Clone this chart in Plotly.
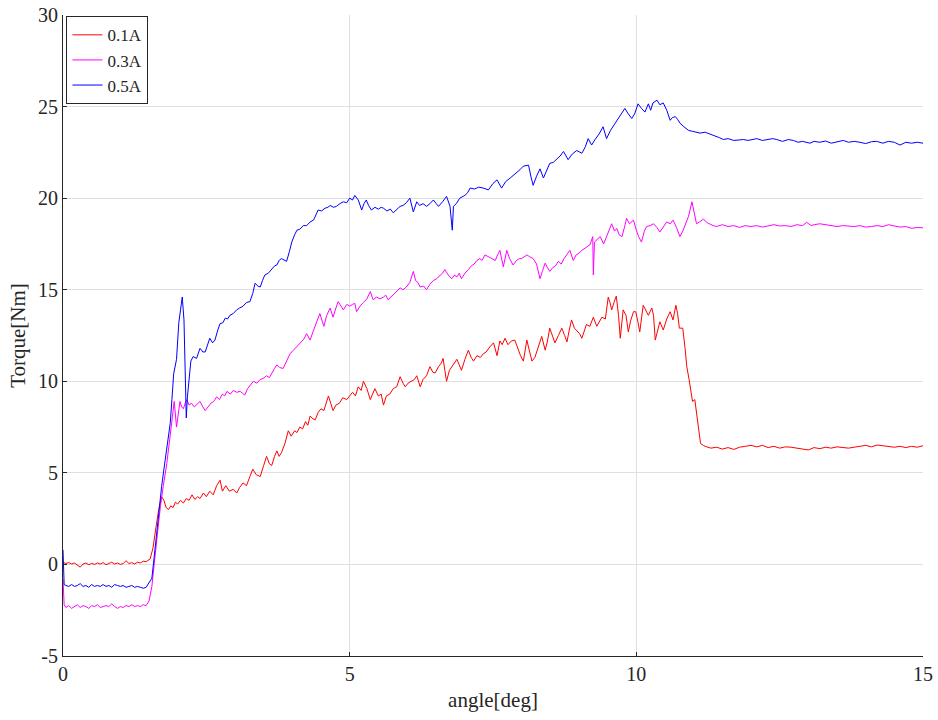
import plotly.graph_objects as go

# ---- Torque vs. angle measurements for three drive currents ----
angle_01 = [
    0.00, 0.05, 0.10, 0.15, 0.20, 0.25, 0.30, 0.35, 0.40, 0.45, 0.50, 0.55, 0.60, 0.65, 0.70,
    0.75, 0.80, 0.85, 0.90, 0.95, 1.00, 1.05, 1.10, 1.15, 1.20, 1.25, 1.30, 1.35, 1.40, 1.45,
    1.52, 1.57, 1.62, 1.67, 1.72, 1.76, 1.80, 1.84, 1.88, 1.92, 1.96, 2.00, 2.05, 2.10, 2.15,
    2.20, 2.25, 2.30, 2.35, 2.39, 2.45, 2.50, 2.56, 2.62, 2.68, 2.74, 2.78, 2.84, 2.90, 2.97,
    3.03, 3.08, 3.14, 3.20, 3.26, 3.31, 3.37, 3.44, 3.50, 3.55, 3.60, 3.64, 3.69, 3.73, 3.77,
    3.81, 3.87, 3.93, 3.98, 4.04, 4.08, 4.13, 4.18, 4.23, 4.27, 4.31, 4.36, 4.40, 4.45, 4.50,
    4.55, 4.60, 4.63, 4.67, 4.71, 4.76, 4.82, 4.88, 4.95, 5.00, 5.05, 5.10, 5.15, 5.20, 5.24,
    5.30, 5.36, 5.40, 5.44, 5.50, 5.55, 5.59, 5.64, 5.70, 5.76, 5.82, 5.88, 5.93, 5.97, 6.02,
    6.08, 6.13, 6.17, 6.20, 6.23, 6.28, 6.34, 6.40, 6.45, 6.49, 6.55, 6.60, 6.63, 6.66, 6.69,
    6.74, 6.80, 6.87, 6.91, 6.95, 7.01, 7.07, 7.12, 7.16, 7.22, 7.28, 7.33, 7.38, 7.45, 7.51,
    7.57, 7.62, 7.66, 7.71, 7.76, 7.82, 7.88, 7.94, 7.98, 8.03, 8.09, 8.14, 8.18, 8.23, 8.29,
    8.35, 8.41, 8.45, 8.49, 8.54, 8.58, 8.64, 8.70, 8.75, 8.79, 8.83, 8.87, 8.92, 8.97, 9.01,
    9.05, 9.09, 9.13, 9.19, 9.25, 9.31, 9.36, 9.40, 9.46, 9.51, 9.54, 9.57, 9.61, 9.65, 9.69,
    9.72, 9.77, 9.82, 9.86, 9.90, 9.95, 9.99, 10.03, 10.06, 10.12, 10.16, 10.21, 10.27, 10.30, 10.33,
    10.37, 10.41, 10.47, 10.53, 10.59, 10.64, 10.69, 10.72, 10.75, 10.81, 10.85, 10.88, 10.92, 10.95, 10.98,
    11.02, 11.05, 11.09, 11.12, 11.17, 11.20, 11.30, 11.40, 11.50, 11.60, 11.70, 11.80, 11.90, 12.00, 12.10,
    12.20, 12.30, 12.40, 12.50, 12.60, 12.70, 12.80, 12.90, 13.00, 13.10, 13.20, 13.30, 13.40, 13.50, 13.60,
    13.70, 13.80, 13.90, 14.00, 14.10, 14.20, 14.30, 14.40, 14.50, 14.60, 14.70, 14.80, 14.90, 15.00,
]
torque_01 = [
    0.12, 0.05, 0.10, 0.02, 0.08, -0.05, -0.15, 0.02, 0.08, -0.02, 0.06, 0.00, 0.08, 0.02, 0.10,
    -0.02, 0.06, 0.12, 0.02, 0.08, 0.00, 0.05, 0.20, 0.05, 0.10, 0.02, 0.12, 0.08, 0.18, 0.15,
    0.30, 0.90, 2.00, 3.00, 3.70, 3.50, 3.10, 3.00, 3.20, 3.10, 3.40, 3.30, 3.50, 3.35, 3.60,
    3.50, 3.80, 3.55, 3.70, 3.60, 3.90, 3.70, 4.00, 3.80, 4.30, 4.60, 4.00, 4.30, 4.00, 4.10,
    3.90, 4.20, 4.45, 4.30, 4.80, 5.20, 4.90, 4.80, 5.40, 5.90, 5.50, 5.40, 5.90, 6.20, 5.90,
    6.10, 6.60, 7.30, 7.00, 7.30, 7.20, 7.50, 7.40, 7.80, 7.60, 8.10, 7.95, 7.90, 8.30, 8.50,
    8.40, 8.90, 9.20, 8.80, 8.40, 8.70, 8.80, 9.10, 9.00, 9.20, 9.40, 9.20, 9.70, 9.50, 10.00,
    9.60, 9.00, 9.30, 9.60, 9.20, 9.30, 8.70, 9.20, 9.30, 9.60, 9.70, 10.25, 9.90, 9.70, 9.90,
    10.00, 10.10, 10.30, 10.00, 9.70, 10.10, 10.30, 10.80, 10.50, 10.45, 10.80, 11.00, 11.25, 10.60, 10.00,
    10.60, 10.90, 11.20, 10.90, 10.60, 11.20, 11.70, 11.30, 11.10, 11.40, 11.30, 11.50, 11.60, 11.90, 12.10,
    11.40, 12.20, 12.00, 12.35, 12.00, 12.20, 12.25, 11.70, 11.40, 11.10, 12.25, 11.60, 11.10, 11.30, 11.90,
    12.45, 11.70, 12.20, 12.90, 12.40, 12.10, 12.50, 12.90, 12.50, 12.15, 12.80, 13.35, 12.90, 12.70, 12.60,
    12.35, 12.80, 13.10, 13.00, 13.50, 13.00, 13.30, 13.50, 13.40, 14.60, 14.30, 13.90, 14.30, 14.65, 13.60,
    12.35, 13.90, 13.60, 12.70, 13.30, 13.80, 13.80, 13.20, 12.70, 14.15, 13.90, 13.60, 14.00, 13.60, 12.25,
    12.70, 13.25, 12.80, 13.40, 13.80, 13.35, 14.15, 13.70, 12.90, 12.90, 11.80, 10.80, 10.10, 9.40, 8.90,
    9.00, 8.20, 7.20, 6.60, 6.50, 6.45, 6.35, 6.40, 6.30, 6.38, 6.28, 6.40, 6.45, 6.50, 6.42,
    6.50, 6.38, 6.45, 6.35, 6.42, 6.40, 6.35, 6.30, 6.25, 6.38, 6.32, 6.40, 6.35, 6.42, 6.40,
    6.35, 6.40, 6.45, 6.50, 6.42, 6.52, 6.48, 6.45, 6.40, 6.45, 6.38, 6.45, 6.40, 6.48,
]

angle_03 = [
    0.00, 0.02, 0.05, 0.10, 0.15, 0.20, 0.25, 0.30, 0.35, 0.40, 0.45, 0.50, 0.55, 0.60, 0.65,
    0.70, 0.75, 0.80, 0.85, 0.90, 0.95, 1.00, 1.05, 1.10, 1.15, 1.20, 1.25, 1.30, 1.35, 1.40,
    1.45, 1.50, 1.55, 1.60, 1.65, 1.70, 1.75, 1.81, 1.86, 1.90, 1.94, 1.98, 2.01, 2.04, 2.07,
    2.10, 2.13, 2.16, 2.20, 2.24, 2.29, 2.34, 2.39, 2.44, 2.48, 2.53, 2.58, 2.63, 2.68, 2.73,
    2.78, 2.82, 2.86, 2.92, 2.97, 3.03, 3.09, 3.13, 3.17, 3.22, 3.27, 3.32, 3.38, 3.44, 3.49,
    3.55, 3.60, 3.64, 3.69, 3.73, 3.78, 3.84, 3.90, 3.96, 4.02, 4.08, 4.14, 4.20, 4.25, 4.31,
    4.36, 4.42, 4.48, 4.55, 4.60, 4.66, 4.71, 4.76, 4.80, 4.85, 4.89, 4.95, 5.00, 5.05, 5.09,
    5.12, 5.18, 5.24, 5.30, 5.36, 5.41, 5.47, 5.53, 5.59, 5.63, 5.67, 5.72, 5.78, 5.83, 5.88,
    5.93, 5.99, 6.05, 6.11, 6.15, 6.19, 6.23, 6.29, 6.34, 6.40, 6.46, 6.52, 6.58, 6.62, 6.66,
    6.72, 6.78, 6.83, 6.87, 6.91, 6.95, 7.01, 7.07, 7.12, 7.17, 7.22, 7.27, 7.31, 7.36, 7.42,
    7.48, 7.54, 7.58, 7.62, 7.68, 7.74, 7.79, 7.85, 7.91, 7.96, 8.00, 8.05, 8.09, 8.14, 8.20,
    8.26, 8.32, 8.36, 8.41, 8.45, 8.49, 8.54, 8.59, 8.64, 8.69, 8.74, 8.79, 8.84, 8.90, 8.95,
    9.00, 9.05, 9.12, 9.19, 9.24, 9.25, 9.27, 9.31, 9.37, 9.43, 9.47, 9.51, 9.57, 9.62, 9.66,
    9.70, 9.75, 9.80, 9.83, 9.88, 9.95, 10.00, 10.04, 10.09, 10.14, 10.18, 10.24, 10.30, 10.36, 10.41,
    10.47, 10.53, 10.59, 10.64, 10.70, 10.76, 10.81, 10.85, 10.91, 10.97, 11.01, 11.05, 11.10, 11.17, 11.24,
    11.30, 11.34, 11.40, 11.50, 11.60, 11.70, 11.80, 11.90, 12.00, 12.10, 12.20, 12.30, 12.40, 12.50, 12.60,
    12.70, 12.80, 12.90, 12.97, 13.05, 13.10, 13.20, 13.30, 13.40, 13.50, 13.60, 13.70, 13.80, 13.90, 14.00,
    14.10, 14.20, 14.30, 14.40, 14.50, 14.60, 14.70, 14.80, 14.90, 15.00,
]
torque_03 = [
    -0.80, -2.20, -2.35, -2.25, -2.40, -2.30, -2.20, -2.35, -2.25, -2.30, -2.40, -2.25, -2.30, -2.20, -2.35,
    -2.30, -2.25, -2.30, -2.15, -2.30, -2.40, -2.30, -2.35, -2.25, -2.30, -2.20, -2.30, -2.25, -2.30, -2.20,
    -2.25, -2.00, -1.20, 0.30, 1.90, 3.20, 4.30, 5.50, 6.80, 7.90, 8.90, 7.50, 8.20, 8.90, 8.60,
    8.50, 8.80, 9.00, 8.70, 8.80, 8.60, 8.75, 8.90, 8.60, 8.40, 8.60, 8.80, 8.90, 9.15, 9.00,
    9.30, 9.20, 9.45, 9.30, 9.50, 9.40, 9.45, 9.35, 9.25, 9.60, 9.80, 10.00, 9.90, 10.10, 10.15,
    10.30, 10.20, 10.45, 10.70, 10.90, 10.75, 10.70, 11.10, 11.50, 11.70, 11.90, 12.10, 12.30, 12.60, 12.25,
    12.70, 13.20, 13.70, 13.00, 13.60, 14.00, 13.50, 14.00, 14.35, 14.10, 13.90, 14.20, 14.10, 14.20, 14.25,
    13.80, 14.10, 14.30, 14.50, 14.90, 14.45, 14.60, 14.50, 14.60, 14.70, 14.45, 14.60, 14.80, 14.90, 15.10,
    15.00, 15.15, 15.40, 16.00, 15.50, 15.40, 15.15, 15.20, 15.00, 15.30, 15.50, 15.60, 15.80, 15.90, 16.10,
    15.80, 15.60, 15.80, 15.70, 15.90, 15.60, 15.90, 16.10, 16.30, 16.40, 16.60, 16.70, 16.60, 16.90, 16.80,
    16.70, 16.60, 16.90, 17.15, 16.25, 17.15, 16.70, 16.35, 16.60, 16.70, 16.70, 16.80, 16.90, 16.80, 16.70,
    16.40, 15.60, 16.00, 16.45, 16.20, 16.00, 16.20, 16.30, 16.55, 16.40, 16.70, 16.90, 17.15, 16.60, 16.90,
    17.00, 17.15, 17.30, 17.45, 17.90, 15.80, 17.60, 17.70, 17.90, 17.50, 17.80, 18.10, 18.60, 18.20, 18.35,
    18.00, 17.90, 18.50, 18.90, 18.60, 18.80, 18.25, 17.90, 17.60, 18.20, 18.45, 18.50, 18.60, 18.40, 18.15,
    18.40, 18.70, 18.60, 18.80, 18.40, 17.90, 18.20, 18.50, 19.00, 19.80, 19.20, 18.60, 18.70, 18.85, 18.65,
    18.55, 18.50, 18.45, 18.55, 18.45, 18.50, 18.40, 18.50, 18.45, 18.50, 18.42, 18.50, 18.55, 18.48, 18.50,
    18.45, 18.55, 18.50, 18.68, 18.50, 18.55, 18.60, 18.55, 18.50, 18.45, 18.50, 18.48, 18.45, 18.50, 18.42,
    18.45, 18.50, 18.45, 18.55, 18.48, 18.42, 18.45, 18.35, 18.40, 18.38,
]

angle_05 = [
    0.00, 0.02, 0.05, 0.10, 0.15, 0.20, 0.25, 0.30, 0.35, 0.40, 0.45, 0.50, 0.55, 0.60, 0.65,
    0.70, 0.75, 0.80, 0.85, 0.90, 0.95, 1.00, 1.05, 1.10, 1.15, 1.20, 1.25, 1.30, 1.35, 1.40,
    1.45, 1.50, 1.55, 1.59, 1.63, 1.67, 1.72, 1.76, 1.81, 1.84, 1.87, 1.90, 1.93, 1.98, 2.02,
    2.05, 2.08, 2.11, 2.13, 2.15, 2.17, 2.20, 2.23, 2.27, 2.33, 2.39, 2.44, 2.48, 2.52, 2.56,
    2.61, 2.65, 2.70, 2.74, 2.79, 2.83, 2.87, 2.91, 2.97, 3.03, 3.08, 3.14, 3.20, 3.26, 3.31,
    3.35, 3.40, 3.44, 3.48, 3.52, 3.58, 3.64, 3.69, 3.73, 3.77, 3.81, 3.86, 3.90, 3.95, 3.99,
    4.04, 4.08, 4.13, 4.19, 4.25, 4.31, 4.37, 4.41, 4.45, 4.51, 4.57, 4.62, 4.66, 4.72, 4.77,
    4.83, 4.89, 4.95, 5.00, 5.05, 5.09, 5.15, 5.21, 5.25, 5.29, 5.33, 5.38, 5.44, 5.50, 5.55,
    5.59, 5.65, 5.71, 5.76, 5.82, 5.88, 5.93, 5.99, 6.05, 6.08, 6.11, 6.17, 6.22, 6.28, 6.34,
    6.40, 6.46, 6.51, 6.55, 6.62, 6.69, 6.75, 6.79, 6.81, 6.86, 6.92, 7.01, 7.06, 7.10, 7.18,
    7.25, 7.33, 7.42, 7.50, 7.57, 7.65, 7.72, 7.80, 7.88, 7.97, 8.03, 8.12, 8.16, 8.20, 8.26,
    8.32, 8.38, 8.44, 8.49, 8.55, 8.61, 8.67, 8.73, 8.77, 8.81, 8.88, 8.96, 9.05, 9.11, 9.16,
    9.22, 9.28, 9.35, 9.42, 9.48, 9.55, 9.63, 9.70, 9.76, 9.80, 9.86, 9.92, 9.97, 10.03, 10.09,
    10.15, 10.21, 10.25, 10.29, 10.36, 10.41, 10.47, 10.53, 10.59, 10.63, 10.68, 10.72, 10.76, 10.83, 10.91,
    10.98, 11.05, 11.11, 11.20, 11.29, 11.38, 11.45, 11.52, 11.60, 11.70, 11.80, 11.87, 11.95, 12.02, 12.10,
    12.20, 12.30, 12.38, 12.45, 12.55, 12.65, 12.74, 12.82, 12.90, 13.03, 13.10, 13.20, 13.30, 13.40, 13.50,
    13.61, 13.70, 13.80, 13.90, 14.00, 14.10, 14.19, 14.30, 14.40, 14.50, 14.60, 14.70, 14.80, 14.90, 15.00,
]
torque_05 = [
    0.80, -1.10, -1.15, -1.20, -1.10, -1.20, -1.15, -1.05, -1.20, -1.15, -1.25, -1.10, -1.20, -1.15, -1.20,
    -1.10, -1.20, -1.15, -1.25, -1.10, -1.15, -1.20, -1.15, -1.25, -1.20, -1.15, -1.25, -1.20, -1.25, -1.30,
    -1.25, -1.00, -0.75, 0.40, 1.70, 3.00, 4.25, 5.20, 6.40, 7.00, 7.70, 9.00, 10.40, 11.20, 13.20,
    13.90, 14.60, 13.35, 10.50, 8.00, 9.15, 10.20, 11.10, 11.35, 11.25, 11.80, 11.60, 11.60, 12.00, 12.35,
    12.10, 12.25, 12.80, 13.15, 13.20, 13.45, 13.40, 13.60, 13.70, 13.90, 14.00, 14.10, 14.30, 14.35, 14.80,
    15.35, 15.20, 15.15, 15.50, 15.80, 15.90, 16.10, 16.30, 16.35, 16.60, 16.70, 16.60, 16.55, 17.10, 17.60,
    18.00, 18.25, 18.30, 18.50, 18.50, 18.70, 18.80, 19.10, 19.35, 19.30, 19.45, 19.50, 19.60, 19.50, 19.55,
    19.70, 19.80, 19.75, 20.00, 19.90, 20.15, 19.90, 19.35, 19.70, 19.90, 19.60, 19.35, 19.50, 19.40, 19.50,
    19.45, 19.30, 19.40, 19.20, 19.40, 19.55, 19.60, 19.75, 20.00, 19.60, 19.25, 19.80, 19.60, 19.70, 19.55,
    19.70, 19.90, 19.70, 19.55, 19.80, 20.10, 19.55, 18.25, 19.55, 19.70, 20.00, 20.15, 20.30, 20.55, 20.50,
    20.60, 20.55, 20.45, 20.80, 21.00, 20.55, 20.90, 21.10, 21.30, 21.55, 21.75, 21.80, 21.20, 20.70, 21.20,
    21.60, 21.10, 21.50, 21.90, 21.95, 22.10, 22.30, 22.55, 22.30, 22.10, 22.40, 22.60, 22.45, 22.80, 23.25,
    22.90, 23.20, 23.50, 23.90, 23.25, 23.70, 24.10, 24.40, 24.70, 24.90, 24.60, 24.35, 24.60, 25.15, 24.90,
    24.70, 25.15, 24.80, 25.20, 25.35, 25.10, 25.20, 24.80, 24.25, 24.40, 24.45, 24.30, 24.10, 23.90, 23.70,
    23.65, 23.60, 23.55, 23.60, 23.50, 23.40, 23.30, 23.20, 23.25, 23.15, 23.20, 23.20, 23.15, 23.20, 23.25,
    23.15, 23.20, 23.25, 23.20, 23.10, 23.20, 23.15, 23.05, 23.10, 23.00, 23.10, 23.05, 23.12, 23.00, 23.08,
    23.15, 23.05, 23.10, 23.05, 22.98, 23.08, 23.10, 23.00, 23.10, 23.05, 22.90, 23.05, 23.00, 23.05, 23.00,
]

series_names = ["0.1A", "0.3A", "0.5A"]
series_colors = ["#ff0000", "#ff00ff", "#0000ff"]
x_ticks = [0, 5, 10, 15]
y_ticks = [-5, 0, 5, 10, 15, 20, 25, 30]

FONT = "Liberation Serif, Times New Roman, serif"
INK = "#262626"
GRID = "#dfdfdf"

fig = go.Figure()
for xs, ys, name, color in zip(
    [angle_01, angle_03, angle_05],
    [torque_01, torque_03, torque_05],
    series_names,
    series_colors,
):
    fig.add_trace(go.Scatter(
        x=xs, y=ys, mode="lines", name=name,
        line=dict(color=color, width=1),
    ))

axis_common = dict(
    showgrid=True, gridcolor=GRID, gridwidth=1,
    zeroline=False, automargin=False,
    showline=True, linecolor=INK, linewidth=1,
    ticks="inside", ticklen=4, tickcolor=INK, tickwidth=1,
    tickfont=dict(family=FONT, size=20, color=INK),
    mirror=False,
)

fig.update_layout(
    width=938, height=720,
    margin=dict(l=63, r=15, t=15, b=64),
    paper_bgcolor="white", plot_bgcolor="white",
    font=dict(family=FONT, color=INK),
    xaxis=dict(
        range=[0, 15], tickvals=x_ticks, ticktext=[str(v) for v in x_ticks],
        title=dict(text="angle[deg]", font=dict(family=FONT, size=21, color=INK), standoff=8),
        **axis_common,
    ),
    yaxis=dict(
        range=[-5, 30], tickvals=y_ticks, ticktext=[str(v) for v in y_ticks],
        title=dict(text="Torque[Nm]", font=dict(family=FONT, size=21, color=INK), standoff=6),
        **axis_common,
    ),
    legend=dict(
        x=0.004, y=0.998, xanchor="left", yanchor="top",
        bgcolor="white", bordercolor=INK, borderwidth=1,
        font=dict(family=FONT, size=17, color=INK),
        tracegroupgap=0, itemwidth=30,
    ),
    showlegend=True,
)

fig.write_html("out.html")
